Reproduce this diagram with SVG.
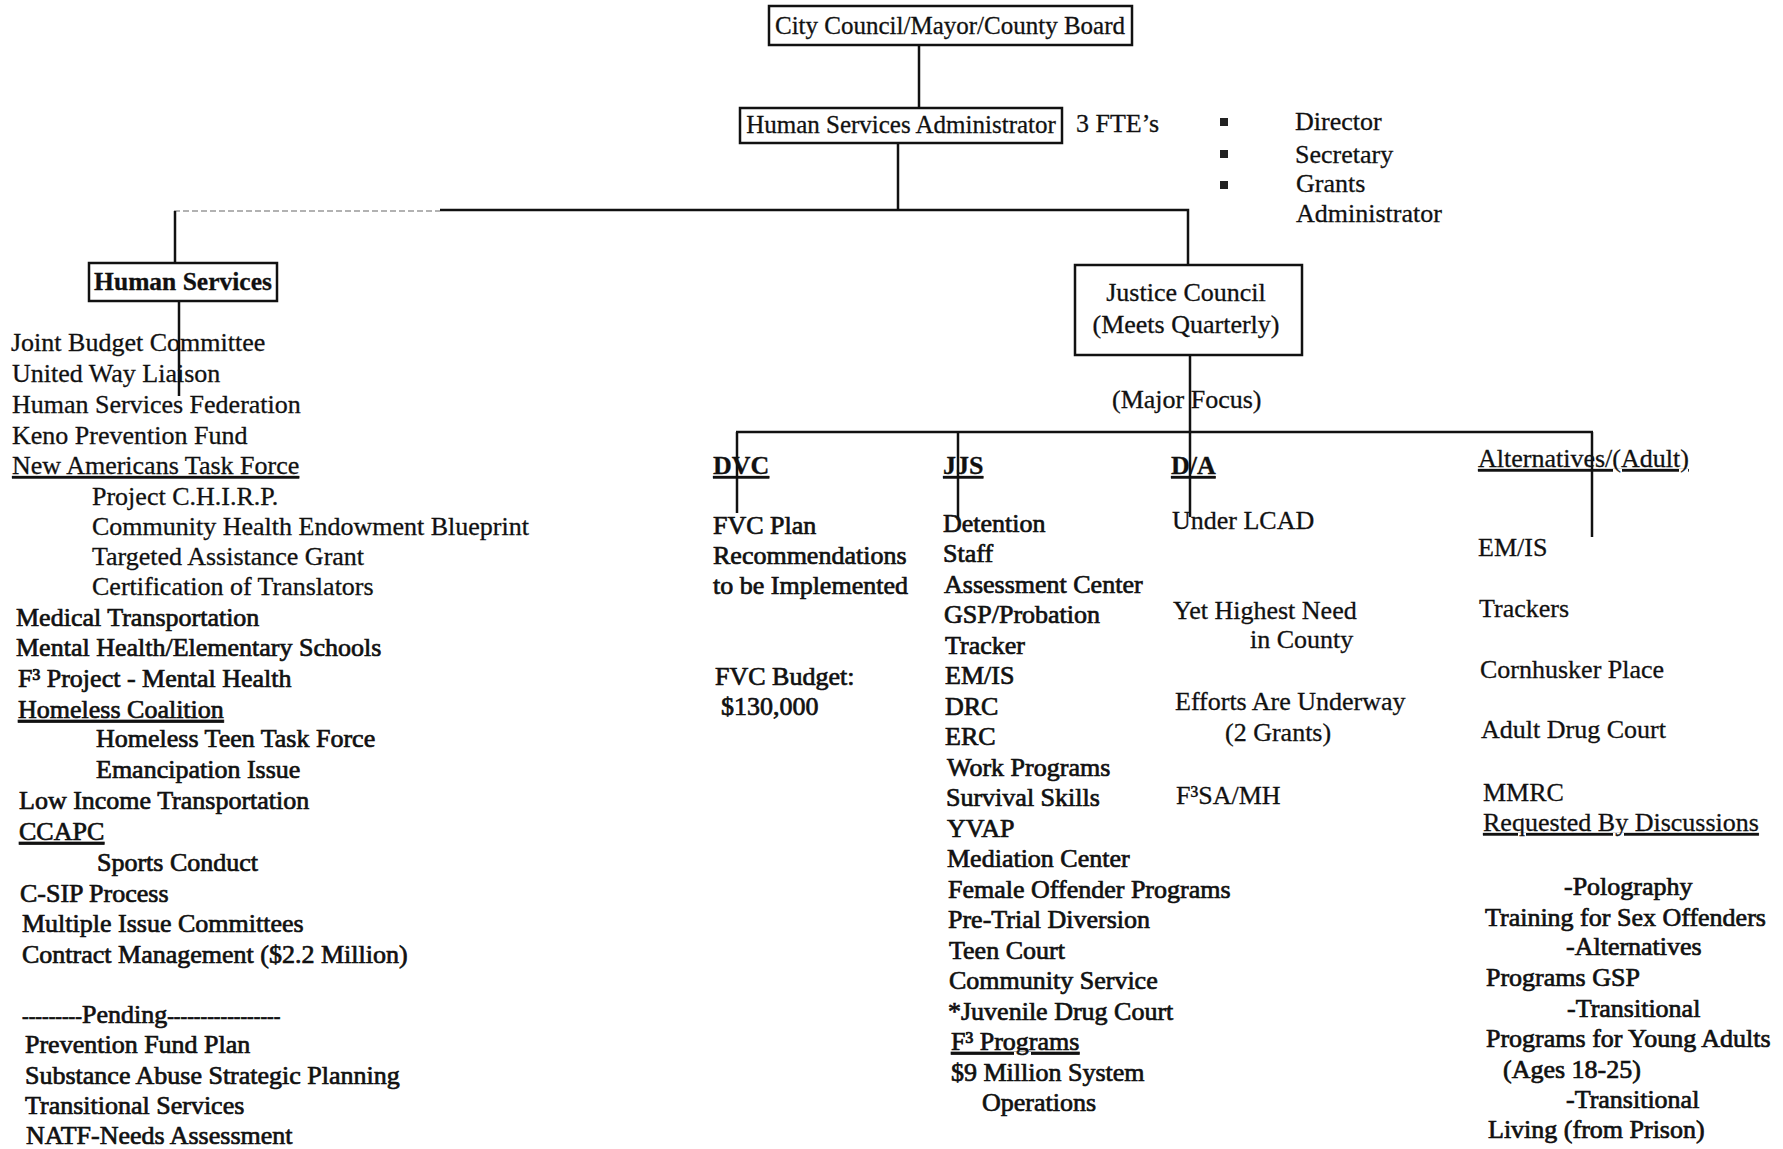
<svg xmlns="http://www.w3.org/2000/svg" width="1783" height="1149" viewBox="0 0 1783 1149">
<style>
text{font-family:"Liberation Serif","Times New Roman",serif;font-size:26px;fill:#111;stroke:#111;stroke-width:0.3}
.dk{stroke-width:0.7}
.b{font-weight:bold}
.u{text-decoration:underline}
.c{text-anchor:middle}
.bt{font-size:25px}
.box{fill:#fff;stroke:#111;stroke-width:2.5}
.ln{stroke:#111;stroke-width:2.5;fill:none}
.faint{stroke:#999;stroke-width:1.5;fill:none;stroke-dasharray:6 3}
.sq{fill:#222}
.sm{font-size:20px}
</style>
<rect width="1783" height="1149" fill="#fff"/>
<g id="connectors">
<line class="ln" x1="919" y1="45" x2="919" y2="108"/>
<line class="ln" x1="898" y1="143" x2="898" y2="210"/>
<line class="faint" x1="174" y1="211" x2="440" y2="211"/>
<polyline class="ln" points="440,210 1188,210 1188,265"/>
<line class="ln" x1="175" y1="211" x2="175" y2="263"/>
<line class="ln" x1="179" y1="301" x2="179" y2="396"/>
<line class="ln" x1="1190" y1="355" x2="1190" y2="517"/>
<line class="ln" x1="736" y1="432" x2="1593" y2="432"/>
<line class="ln" x1="737" y1="432" x2="737" y2="513"/>
<line class="ln" x1="958" y1="432" x2="958" y2="520"/>
<line class="ln" x1="1592" y1="432" x2="1592" y2="537"/>
</g>
<g id="city-council">
<rect class="box" x="769" y="6" width="363" height="39"/>
<text class="c bt" x="950" y="34">City Council/Mayor/County Board</text>
</g>
<g id="human-services-administrator">
<rect class="box" x="740" y="108" width="322" height="35"/>
<text class="c bt" x="901" y="133">Human Services Administrator</text>
</g>
<g id="fte">
<text x="1076" y="132">3 FTE’s</text>
<rect class="sq" x="1220" y="118" width="8" height="8"/>
<rect class="sq" x="1220" y="150" width="8" height="8"/>
<rect class="sq" x="1220" y="181" width="8" height="8"/>
<text x="1295" y="130">Director</text>
<text x="1295" y="163">Secretary</text>
<text x="1296" y="192">Grants</text>
<text x="1296" y="222">Administrator</text>
</g>
<g id="human-services">
<rect class="box" x="89" y="263" width="188" height="38"/>
<text class="c b" x="183" y="290" style="font-size:25.5px">Human Services</text>
</g>
<g id="human-services-list">
<text x="11" y="351">Joint Budget Committee</text>
<text x="12" y="382">United Way Liaison</text>
<text x="12" y="413">Human Services Federation</text>
<text x="12" y="444">Keno Prevention Fund</text>
<text class="u" x="12" y="474">New Americans Task Force</text>
<text x="92" y="505">Project C.H.I.R.P.</text>
<text x="92" y="535">Community Health Endowment Blueprint</text>
<text x="92" y="565">Targeted Assistance Grant</text>
<text x="92" y="595">Certification of Translators</text>
<text class="dk" x="16" y="626">Medical Transportation</text>
<text class="dk" x="16" y="656">Mental Health/Elementary Schools</text>
<text class="dk" x="18" y="687">F³ Project - Mental Health</text>
<text class="u dk" x="18" y="718">Homeless Coalition</text>
<text class="dk" x="96" y="747">Homeless Teen Task Force</text>
<text class="dk" x="96" y="778">Emancipation Issue</text>
<text class="dk" x="19" y="809">Low Income Transportation</text>
<text class="u dk" x="19" y="840">CCAPC</text>
<text class="dk" x="97" y="871">Sports Conduct</text>
<text class="dk" x="20" y="902">C-SIP Process</text>
<text class="dk" x="22" y="932">Multiple Issue Committees</text>
<text class="dk" x="22" y="963">Contract Management ($2.2 Million)</text>
<text class="dk" x="22" y="1023"><tspan class="sm">---------</tspan>Pending<tspan class="sm">-----------------</tspan></text>
<text class="dk" x="25" y="1053">Prevention Fund Plan</text>
<text class="dk" x="25" y="1084">Substance Abuse Strategic Planning</text>
<text class="dk" x="25" y="1114">Transitional Services</text>
<text class="dk" x="26" y="1144">NATF-Needs Assessment</text>
</g>
<g id="justice-council">
<rect class="box" x="1075" y="265" width="227" height="90"/>
<text class="c" x="1186" y="301">Justice Council</text>
<text class="c" x="1186" y="333">(Meets Quarterly)</text>
</g>
<g id="major-focus">
<text x="1112" y="408">(Major Focus)</text>
</g>
<g id="dvc">
<text class="b u" x="713" y="474">DVC</text>
<text class="dk" x="713" y="534">FVC Plan</text>
<text class="dk" x="713" y="564">Recommendations</text>
<text class="dk" x="713" y="594">to be Implemented</text>
<text class="dk" x="715" y="685">FVC Budget:</text>
<text class="dk" x="721" y="715">$130,000</text>
</g>
<g id="jjs">
<text class="b u" x="943" y="474">JJS</text>
<text class="dk" x="943" y="532">Detention</text>
<text class="dk" x="943" y="562">Staff</text>
<text class="dk" x="944" y="593">Assessment Center</text>
<text class="dk" x="944" y="623">GSP/Probation</text>
<text class="dk" x="945" y="654">Tracker</text>
<text class="dk" x="945" y="684">EM/IS</text>
<text class="dk" x="945" y="715">DRC</text>
<text class="dk" x="945" y="745">ERC</text>
<text class="dk" x="947" y="776">Work Programs</text>
<text class="dk" x="946" y="806">Survival Skills</text>
<text class="dk" x="947" y="837">YVAP</text>
<text class="dk" x="947" y="867">Mediation Center</text>
<text class="dk" x="948" y="898">Female Offender Programs</text>
<text class="dk" x="948" y="928">Pre-Trial Diversion</text>
<text class="dk" x="949" y="959">Teen Court</text>
<text class="dk" x="949" y="989">Community Service</text>
<text class="dk" x="948" y="1020">*Juvenile Drug Court</text>
<text class="u dk" x="951" y="1050">F³ Programs</text>
<text class="dk" x="951" y="1081">$9 Million System</text>
<text class="dk" x="982" y="1111">Operations</text>
</g>
<g id="da">
<text class="b u" x="1171" y="474">D/A</text>
<text x="1172" y="529">Under LCAD</text>
<text x="1173" y="619">Yet Highest Need</text>
<text x="1250" y="648">in County</text>
<text x="1175" y="710">Efforts Are Underway</text>
<text x="1225" y="741">(2 Grants)</text>
<text x="1176" y="804">F³SA/MH</text>
</g>
<g id="alternatives">
<text class="u" x="1478" y="467">Alternatives/(Adult)</text>
<text x="1478" y="556">EM/IS</text>
<text x="1479" y="617">Trackers</text>
<text x="1480" y="678">Cornhusker Place</text>
<text x="1481" y="738">Adult Drug Court</text>
<text x="1483" y="801">MMRC</text>
<text class="u" x="1483" y="831">Requested By Discussions</text>
<text class="dk" x="1564" y="895">-Polography</text>
<text class="dk" x="1485" y="926">Training for Sex Offenders</text>
<text class="dk" x="1566" y="955">-Alternatives</text>
<text class="dk" x="1486" y="986">Programs GSP</text>
<text class="dk" x="1567" y="1017">-Transitional</text>
<text class="dk" x="1486" y="1047">Programs for Young Adults</text>
<text class="dk" x="1503" y="1078">(Ages 18-25)</text>
<text class="dk" x="1566" y="1108">-Transitional</text>
<text class="dk" x="1488" y="1138">Living (from Prison)</text>
</g>
</svg>
